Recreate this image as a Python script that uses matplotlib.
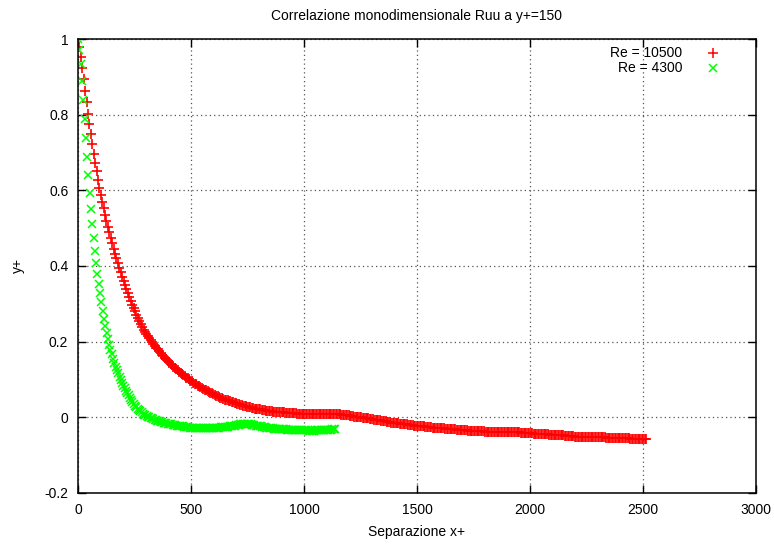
# Correlazione monodimensionale Ruu a y+=150 - two Reynolds numbers
import numpy as np
import matplotlib
matplotlib.use('Agg')
import matplotlib.pyplot as plt

plt.rcParams['font.family'] = ['Liberation Sans', 'DejaVu Sans']

# series, equally spaced in x+
re_labels = ['Re = 10500', 'Re = 4300']
x_step_10500 = 6.3
x_step_4300 = 5.74

ruu_10500 = [
    1.000, 0.978, 0.952, 0.923, 0.893, 0.863, 0.833, 0.803, 0.775, 0.748,
    0.722, 0.697, 0.673, 0.650, 0.628, 0.607, 0.588, 0.570, 0.553, 0.536,
    0.520, 0.504, 0.489, 0.474, 0.460, 0.446, 0.433, 0.420, 0.407, 0.395,
    0.383, 0.371, 0.360, 0.349, 0.338, 0.328, 0.318, 0.308, 0.298, 0.289,
    0.280, 0.271, 0.262, 0.254, 0.246, 0.238, 0.232, 0.226, 0.221, 0.215,
    0.209, 0.204, 0.200, 0.194, 0.189, 0.184, 0.180, 0.175, 0.170, 0.166,
    0.161, 0.157, 0.153, 0.149, 0.145, 0.142, 0.138, 0.134, 0.130, 0.127,
    0.124, 0.121, 0.118, 0.115, 0.111, 0.108, 0.105, 0.103, 0.100, 0.097,
    0.095, 0.092, 0.089, 0.087, 0.084, 0.082, 0.080, 0.078, 0.075, 0.073,
    0.071, 0.069, 0.066, 0.065, 0.063, 0.061, 0.059, 0.057, 0.056, 0.054,
    0.052, 0.050, 0.049, 0.047, 0.046, 0.045, 0.044, 0.042, 0.041, 0.040,
    0.038, 0.037, 0.036, 0.035, 0.033, 0.032, 0.031, 0.030, 0.029, 0.028,
    0.027, 0.026, 0.025, 0.024, 0.023, 0.022, 0.022, 0.021, 0.021, 0.020,
    0.020, 0.019, 0.018, 0.018, 0.017, 0.017, 0.016, 0.015, 0.015, 0.014,
    0.014, 0.014, 0.013, 0.013, 0.013, 0.013, 0.012, 0.012, 0.012, 0.012,
    0.011, 0.011, 0.011, 0.011, 0.010, 0.010, 0.010, 0.010, 0.010, 0.009,
    0.009, 0.009, 0.009, 0.009, 0.009, 0.009, 0.009, 0.009, 0.009, 0.009,
    0.009, 0.009, 0.009, 0.009, 0.009, 0.009, 0.009, 0.009, 0.009, 0.009,
    0.009, 0.008, 0.008, 0.008, 0.008, 0.007, 0.007, 0.006, 0.006, 0.005,
    0.005, 0.004, 0.004, 0.003, 0.002, 0.002, 0.001, 0.001, 0.000, 0.000,
    -0.001, -0.001, -0.002, -0.002, -0.003, -0.004, -0.004, -0.005, -0.006, -0.006,
    -0.007, -0.008, -0.008, -0.009, -0.010, -0.010, -0.011, -0.012, -0.012, -0.013,
    -0.014, -0.014, -0.015, -0.015, -0.016, -0.016, -0.017, -0.017, -0.018, -0.018,
    -0.019, -0.019, -0.020, -0.020, -0.021, -0.021, -0.022, -0.022, -0.023, -0.023,
    -0.023, -0.024, -0.024, -0.024, -0.025, -0.025, -0.025, -0.026, -0.026, -0.027,
    -0.027, -0.027, -0.028, -0.028, -0.028, -0.029, -0.029, -0.029, -0.030, -0.030,
    -0.031, -0.031, -0.031, -0.032, -0.032, -0.032, -0.033, -0.033, -0.033, -0.033,
    -0.034, -0.034, -0.034, -0.034, -0.035, -0.035, -0.035, -0.035, -0.036, -0.036,
    -0.036, -0.036, -0.037, -0.037, -0.037, -0.037, -0.038, -0.038, -0.038, -0.038,
    -0.038, -0.038, -0.038, -0.038, -0.038, -0.038, -0.038, -0.039, -0.039, -0.039,
    -0.039, -0.039, -0.039, -0.039, -0.039, -0.039, -0.039, -0.040, -0.040, -0.040,
    -0.040, -0.041, -0.041, -0.041, -0.041, -0.042, -0.042, -0.042, -0.042, -0.042,
    -0.043, -0.043, -0.043, -0.043, -0.044, -0.044, -0.044, -0.045, -0.045, -0.045,
    -0.045, -0.046, -0.046, -0.046, -0.047, -0.047, -0.047, -0.047, -0.048, -0.048,
    -0.048, -0.048, -0.049, -0.049, -0.049, -0.049, -0.050, -0.050, -0.050, -0.051,
    -0.051, -0.051, -0.051, -0.051, -0.051, -0.052, -0.052, -0.052, -0.052, -0.052,
    -0.052, -0.052, -0.052, -0.053, -0.053, -0.053, -0.053, -0.053, -0.053, -0.053,
    -0.053, -0.054, -0.054, -0.054, -0.054, -0.055, -0.055, -0.055, -0.055, -0.055,
    -0.056, -0.056, -0.056, -0.056, -0.056, -0.056, -0.056, -0.056, -0.057, -0.057,
    -0.057, -0.057, -0.057, -0.057, -0.057, -0.058, -0.058, -0.058, -0.058, -0.058,
]

ruu_4300 = [
    1.000, 0.972, 0.933, 0.888, 0.839, 0.789, 0.738, 0.688, 0.640, 0.594,
    0.551, 0.511, 0.474, 0.440, 0.409, 0.380, 0.353, 0.328, 0.304, 0.282,
    0.261, 0.242, 0.224, 0.207, 0.190, 0.179, 0.167, 0.155, 0.144, 0.134,
    0.125, 0.116, 0.107, 0.099, 0.091, 0.084, 0.077, 0.070, 0.064, 0.058,
    0.052, 0.046, 0.041, 0.036, 0.031, 0.027, 0.023, 0.019, 0.016, 0.013,
    0.010, 0.007, 0.005, 0.003, 0.001, 0.000, -0.002, -0.003, -0.005, -0.006,
    -0.007, -0.009, -0.010, -0.011, -0.012, -0.013, -0.014, -0.015, -0.016, -0.017,
    -0.018, -0.018, -0.019, -0.020, -0.020, -0.021, -0.022, -0.022, -0.023, -0.023,
    -0.024, -0.024, -0.025, -0.025, -0.026, -0.026, -0.027, -0.027, -0.027, -0.028,
    -0.028, -0.028, -0.028, -0.029, -0.029, -0.029, -0.029, -0.029, -0.029, -0.029,
    -0.029, -0.028, -0.028, -0.028, -0.028, -0.028, -0.028, -0.027, -0.027, -0.027,
    -0.026, -0.026, -0.026, -0.025, -0.025, -0.025, -0.025, -0.024, -0.024, -0.023,
    -0.022, -0.022, -0.021, -0.020, -0.020, -0.019, -0.019, -0.018, -0.018, -0.018,
    -0.018, -0.019, -0.019, -0.019, -0.020, -0.020, -0.021, -0.022, -0.022, -0.023,
    -0.024, -0.024, -0.025, -0.026, -0.026, -0.027, -0.027, -0.028, -0.028, -0.029,
    -0.029, -0.030, -0.030, -0.030, -0.031, -0.031, -0.031, -0.032, -0.032, -0.032,
    -0.032, -0.033, -0.033, -0.033, -0.033, -0.033, -0.034, -0.034, -0.034, -0.034,
    -0.034, -0.034, -0.034, -0.034, -0.034, -0.034, -0.034, -0.034, -0.035, -0.035,
    -0.035, -0.035, -0.035, -0.034, -0.034, -0.034, -0.034, -0.034, -0.034, -0.034,
    -0.034, -0.034, -0.033, -0.033, -0.033, -0.033, -0.032, -0.032, -0.032,
]

x_ticks = [0, 500, 1000, 1500, 2000, 2500, 3000]
y_ticks = [-0.2, 0, 0.2, 0.4, 0.6, 0.8, 1]
y_tick_labels = ['-0.2', '0', '0.2', '0.4', '0.6', '0.8', '1']

x_10500 = np.arange(len(ruu_10500)) * x_step_10500
x_4300 = np.arange(len(ruu_4300)) * x_step_4300

fig = plt.figure(figsize=(7.74, 5.44), dpi=100)
ax = fig.add_axes([0.1008, 0.0938, 0.8759, 0.8345])

ax.plot(x_10500, ruu_10500, linestyle='none', marker='+', markersize=7.5,
        markeredgewidth=1.2, color='#ff0000')
ax.plot(x_4300, ruu_4300, linestyle='none', marker='x', markersize=6,
        markeredgewidth=1.1, color='#00ff00')

ax.set_xlim(0, 3000)
ax.set_ylim(-0.2, 1)
ax.set_xticks(x_ticks)
ax.set_xticklabels([str(t) for t in x_ticks])
ax.set_yticks(y_ticks)
ax.set_yticklabels(y_tick_labels)
ax.tick_params(direction='in', length=6, width=1, top=True, right=True,
               labelsize=10, pad=7, colors='black')
ax.grid(True, linestyle=(0, (1, 2.5)), color='#555555', linewidth=0.9)
for s in ax.spines.values():
    s.set_linewidth(1.1)

ax.set_title('Correlazione monodimensionale Ruu a y+=150', fontsize=10, pad=14)
ax.set_xlabel('Separazione x+', fontsize=10, labelpad=6)
ax.set_ylabel('y+', fontsize=10, labelpad=14)

# gnuplot-like key: text right aligned, sample on the right
key_rows = [0.969, 0.936]
key_markers = [('+', 7.5, '#ff0000'), ('x', 6, '#00ff00')]
for lab, yk, (mk, ms, col) in zip(re_labels, key_rows, key_markers):
    ax.text(0.891, yk, lab, transform=ax.transAxes, ha='right', va='center',
            fontsize=10)
    ax.plot([0.9366], [yk], transform=ax.transAxes, marker=mk, markersize=ms,
            markeredgewidth=1.1, color=col, linestyle='none', clip_on=False)

fig.savefig('out.png', dpi=100)
